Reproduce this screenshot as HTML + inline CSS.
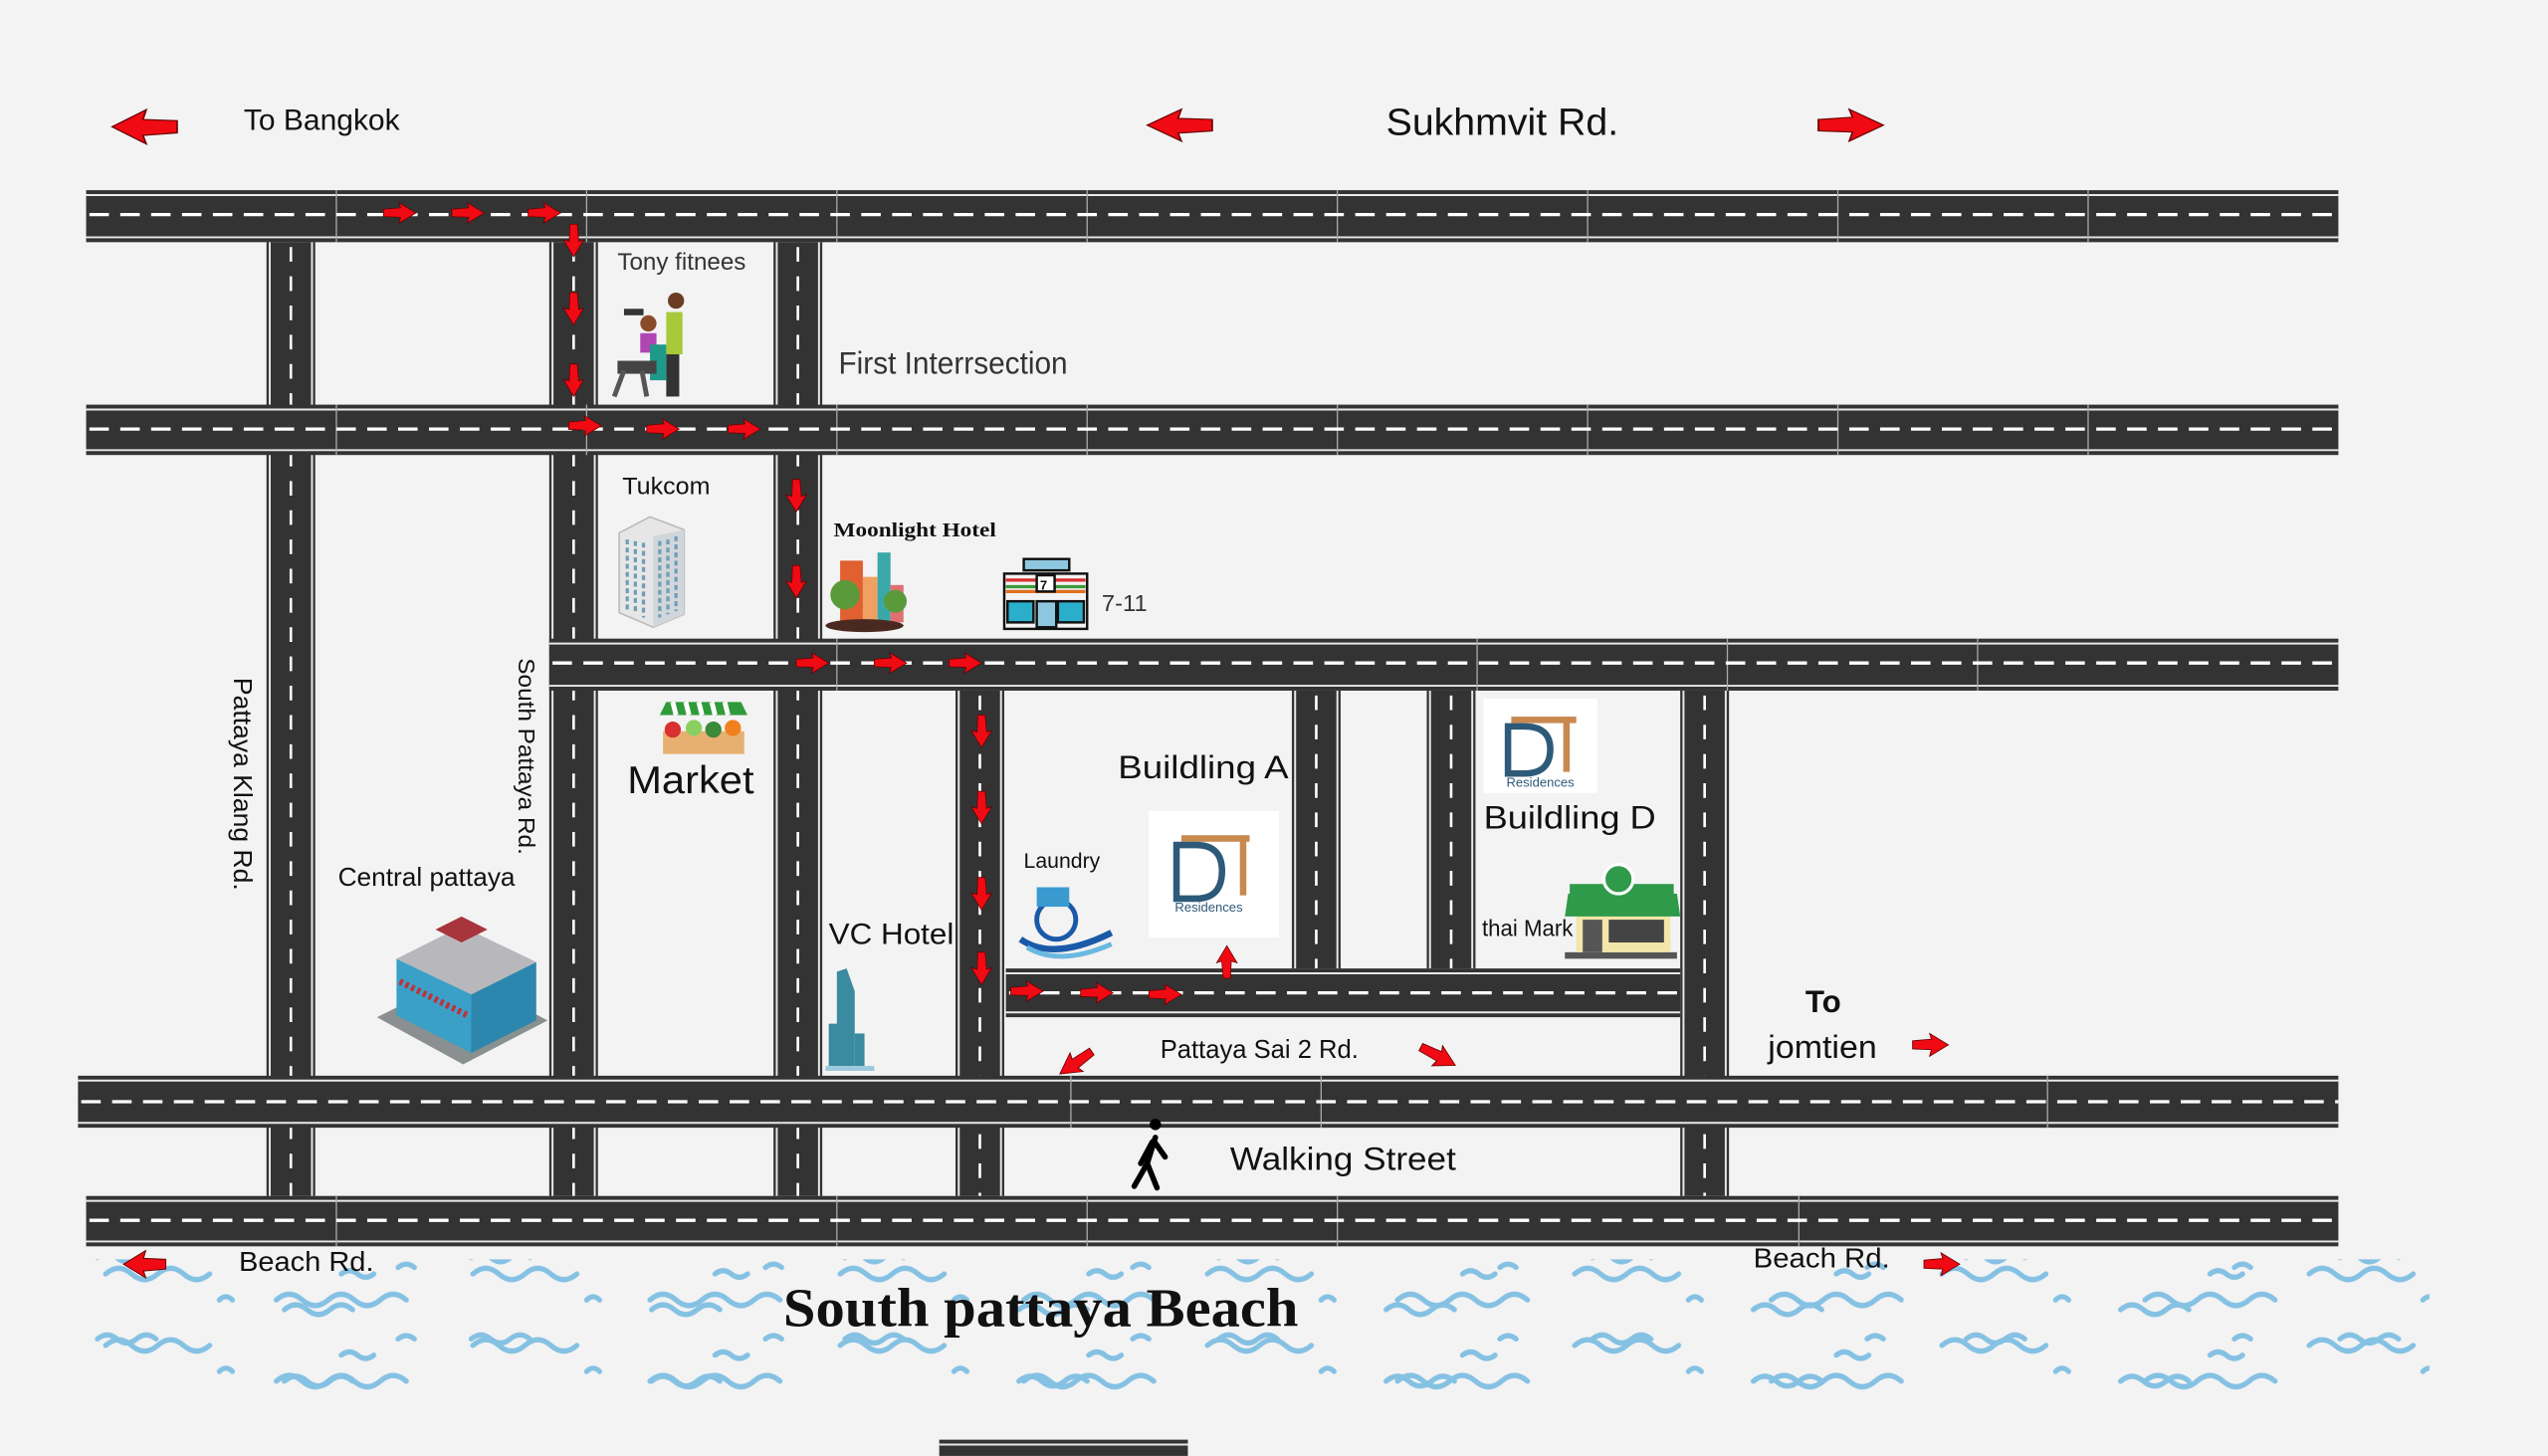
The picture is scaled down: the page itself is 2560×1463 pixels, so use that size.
<!DOCTYPE html>
<html><head><meta charset="utf-8"><style>
html,body{margin:0;padding:0;background:#f3f3f3;}
svg{display:block;}
text{font-family:"Liberation Sans",sans-serif;fill:#111;}
</style></head><body>
<svg width="2560" height="1463" viewBox="0 0 1568 896" xmlns="http://www.w3.org/2000/svg">
<defs>
<path id="ar" d="M-20,-5 L1,-7 L-1,-14 L20,0 L-1,14 L1,6 L-20,5 Z" fill="#f00a14" stroke="#6a0000" stroke-width="1"/>
<pattern id="wv" x="55" y="770" width="226" height="44" patternUnits="userSpaceOnUse">
<path d="M10,14 q8,-7 16,0 t16,0 t16,0 t16,0 M120,36 q7,-6 14,0 t14,0 t14,0 M190,10 q5,-4 10,0 M80,30 q4,-4 8,0" stroke="#85c1e3" stroke-width="3.2" fill="none" stroke-linecap="round"/>
</pattern>
<pattern id="wv2" x="150" y="790" width="230" height="50" patternUnits="userSpaceOnUse">
<path d="M20,10 q8,-7 16,0 t16,0 t16,0 t16,0 t16,0 M140,34 q6,-5 12,0 t12,0 t12,0 M60,44 q5,-4 10,0 t10,0" stroke="#85c1e3" stroke-width="3.2" fill="none" stroke-linecap="round"/>
</pattern>
</defs>
<rect width="1568" height="896" fill="#f3f3f3"/>

<!-- waves -->
<rect x="55" y="768" width="1440" height="92" fill="url(#wv)"/>
<rect x="55" y="775" width="1440" height="85" fill="url(#wv2)"/>

<!-- vertical roads -->
<g fill="#333">
<rect x="164" y="149" width="30" height="587"/>
<rect x="338" y="149" width="30" height="587"/>
<rect x="476" y="149" width="30" height="587"/>
<rect x="588" y="425" width="30" height="311"/>
<rect x="795" y="425" width="30" height="171"/>
<rect x="878" y="425" width="30" height="171"/>
<rect x="1034" y="425" width="30" height="311"/>
</g>
<g stroke="#e8e8e8" stroke-width="1.2">
<line x1="166" y1="149" x2="166" y2="736"/><line x1="192" y1="149" x2="192" y2="736"/>
<line x1="340" y1="149" x2="340" y2="736"/><line x1="366" y1="149" x2="366" y2="736"/>
<line x1="478" y1="149" x2="478" y2="736"/><line x1="504" y1="149" x2="504" y2="736"/>
<line x1="590" y1="425" x2="590" y2="736"/><line x1="616" y1="425" x2="616" y2="736"/>
<line x1="797" y1="425" x2="797" y2="596"/><line x1="823" y1="425" x2="823" y2="596"/>
<line x1="880" y1="425" x2="880" y2="596"/><line x1="906" y1="425" x2="906" y2="596"/>
<line x1="1036" y1="425" x2="1036" y2="736"/><line x1="1062" y1="425" x2="1062" y2="736"/>
</g>
<g stroke="#fff" stroke-width="1.6" stroke-dasharray="9 9">
<line x1="179" y1="152" x2="179" y2="736"/>
<line x1="353" y1="152" x2="353" y2="736"/>
<line x1="491" y1="152" x2="491" y2="736"/>
<line x1="603" y1="428" x2="603" y2="736"/>
<line x1="810" y1="428" x2="810" y2="596"/>
<line x1="893" y1="428" x2="893" y2="596"/>
<line x1="1049" y1="428" x2="1049" y2="736"/>
</g>

<!-- horizontal roads -->
<g fill="#333">
<rect x="53" y="117" width="1386" height="32"/>
<rect x="53" y="249" width="1386" height="31"/>
<rect x="338" y="393" width="1101" height="32"/>
<rect x="619" y="596" width="415" height="30"/>
<rect x="48" y="662" width="1391" height="32"/>
<rect x="53" y="736" width="1386" height="31"/>
<rect x="578" y="886" width="153" height="10"/>
</g>
<g stroke="#e8e8e8" stroke-width="1.2">
<line x1="53" y1="120" x2="1439" y2="120"/><line x1="53" y1="146" x2="1439" y2="146"/>
<line x1="53" y1="252" x2="1439" y2="252"/><line x1="53" y1="277" x2="1439" y2="277"/>
<line x1="338" y1="396" x2="1439" y2="396"/><line x1="338" y1="422" x2="1439" y2="422"/>
<line x1="619" y1="599" x2="1034" y2="599"/><line x1="619" y1="623" x2="1034" y2="623"/>
<line x1="48" y1="665" x2="1439" y2="665"/><line x1="48" y1="691" x2="1439" y2="691"/>
<line x1="53" y1="739" x2="1439" y2="739"/><line x1="53" y1="764" x2="1439" y2="764"/>
<line x1="578" y1="889" x2="731" y2="889"/>
</g>
<g stroke="#aaa" stroke-width="0.8">
<line x1="207" y1="117" x2="207" y2="149"/><line x1="361" y1="117" x2="361" y2="149"/><line x1="515" y1="117" x2="515" y2="149"/><line x1="669" y1="117" x2="669" y2="149"/><line x1="823" y1="117" x2="823" y2="149"/><line x1="977" y1="117" x2="977" y2="149"/><line x1="1131" y1="117" x2="1131" y2="149"/><line x1="1285" y1="117" x2="1285" y2="149"/>
<line x1="207" y1="249" x2="207" y2="280"/><line x1="361" y1="249" x2="361" y2="280"/><line x1="515" y1="249" x2="515" y2="280"/><line x1="669" y1="249" x2="669" y2="280"/><line x1="823" y1="249" x2="823" y2="280"/><line x1="977" y1="249" x2="977" y2="280"/><line x1="1131" y1="249" x2="1131" y2="280"/><line x1="1285" y1="249" x2="1285" y2="280"/>
<line x1="515" y1="393" x2="515" y2="425"/><line x1="909" y1="393" x2="909" y2="425"/><line x1="1063" y1="393" x2="1063" y2="425"/><line x1="1217" y1="393" x2="1217" y2="425"/>
<line x1="659" y1="662" x2="659" y2="694"/><line x1="813" y1="662" x2="813" y2="694"/><line x1="1260" y1="662" x2="1260" y2="694"/>
<line x1="207" y1="736" x2="207" y2="767"/><line x1="515" y1="736" x2="515" y2="767"/><line x1="669" y1="736" x2="669" y2="767"/><line x1="823" y1="736" x2="823" y2="767"/><line x1="1107" y1="736" x2="1107" y2="767"/>
</g>
<g stroke="#fff" stroke-width="2" stroke-dasharray="12 7">
<line x1="55" y1="132" x2="1439" y2="132"/>
<line x1="55" y1="264" x2="1439" y2="264"/>
<line x1="340" y1="408" x2="1439" y2="408"/>
<line x1="621" y1="611" x2="1034" y2="611"/>
<line x1="50" y1="678" x2="1439" y2="678"/>
<line x1="55" y1="751" x2="1439" y2="751"/>
</g>

<!-- road arrows -->
<g>
<use href="#ar" transform="translate(246,131) scale(0.5,0.45)"/>
<use href="#ar" transform="translate(288,131) scale(0.5,0.45)"/>
<use href="#ar" transform="translate(335,131) scale(0.5,0.45)"/>
<use href="#ar" transform="translate(353,148) rotate(90) scale(0.5,0.45)"/>
<use href="#ar" transform="translate(353,190) rotate(90) scale(0.5,0.45)"/>
<use href="#ar" transform="translate(353,234) rotate(90) scale(0.5,0.45)"/>
<use href="#ar" transform="translate(360,262) scale(0.5,0.45)"/>
<use href="#ar" transform="translate(408,264) scale(0.5,0.45)"/>
<use href="#ar" transform="translate(458,264) scale(0.5,0.45)"/>
<use href="#ar" transform="translate(490,305) rotate(90) scale(0.5,0.45)"/>
<use href="#ar" transform="translate(490,358) rotate(90) scale(0.5,0.45)"/>
<use href="#ar" transform="translate(500,408) scale(0.5,0.45)"/>
<use href="#ar" transform="translate(548,408) scale(0.5,0.45)"/>
<use href="#ar" transform="translate(594,408) scale(0.5,0.45)"/>
<use href="#ar" transform="translate(604,450) rotate(90) scale(0.5,0.45)"/>
<use href="#ar" transform="translate(604,497) rotate(90) scale(0.5,0.45)"/>
<use href="#ar" transform="translate(604,550) rotate(90) scale(0.5,0.45)"/>
<use href="#ar" transform="translate(604,596) rotate(90) scale(0.5,0.45)"/>
<use href="#ar" transform="translate(632,610) scale(0.5,0.45)"/>
<use href="#ar" transform="translate(675,611) scale(0.5,0.45)"/>
<use href="#ar" transform="translate(717,612) scale(0.5,0.45)"/>
<use href="#ar" transform="translate(755,592) rotate(-90) scale(0.5,0.45)"/>
<use href="#ar" transform="translate(662,654) rotate(145) scale(0.6,0.5)"/>
<use href="#ar" transform="translate(885,650) rotate(28) scale(0.6,0.5)"/>
<use href="#ar" transform="translate(89,78) rotate(180) scale(1,0.75)"/>
<use href="#ar" transform="translate(726,77) rotate(180) scale(1,0.7)"/>
<use href="#ar" transform="translate(1139,77) scale(1,0.7)"/>
<use href="#ar" transform="translate(1188,643) scale(0.55,0.5)"/>
<use href="#ar" transform="translate(89,778) rotate(180) scale(0.65,0.6)"/>
<use href="#ar" transform="translate(1195,778) scale(0.55,0.5)"/>
</g>

<!-- icons -->
<g>
<circle cx="416" cy="185" r="5" fill="#6b3b24"/>
<rect x="410" y="192" width="10" height="26" fill="#a7c93a"/>
<rect x="410" y="218" width="8" height="26" fill="#333"/>
<circle cx="399" cy="199" r="5" fill="#8a4b2a"/>
<rect x="394" y="205" width="10" height="12" fill="#b046b3"/>
<rect x="400" y="212" width="10" height="22" fill="#1f9a8a"/>
<rect x="380" y="222" width="24" height="8" fill="#444"/>
<path d="M378,244 L384,228 M398,244 L395,228" stroke="#555" stroke-width="3"/>
<rect x="384" y="190" width="12" height="4" fill="#333"/>
</g>
<g>
<path d="M381,328 L400,318 L421,326 L421,378 L402,386 L381,377 Z" fill="#e6e6e6" stroke="#bbb"/>
<path d="M402,330 L421,326 L421,378 L402,386 Z" fill="#d0d6da"/>
<g stroke="#6f9fb5" stroke-width="2" stroke-dasharray="3 2">
<line x1="386" y1="332" x2="386" y2="376"/><line x1="391" y1="333" x2="391" y2="378"/><line x1="396" y1="334" x2="396" y2="380"/>
<line x1="406" y1="333" x2="406" y2="380"/><line x1="411" y1="332" x2="411" y2="378"/><line x1="416" y1="330" x2="416" y2="376"/>
</g>
</g>
<g>
<rect x="517" y="345" width="14" height="38" fill="#e06030"/>
<rect x="531" y="355" width="9" height="28" fill="#f0a060"/>
<rect x="540" y="340" width="8" height="43" fill="#3aa8a8"/>
<rect x="548" y="360" width="8" height="23" fill="#e07070"/>
<circle cx="520" cy="366" r="9" fill="#5a9a3a"/>
<circle cx="551" cy="370" r="7" fill="#5a9a3a"/>
<ellipse cx="532" cy="385" rx="24" ry="4" fill="#4a2a20"/>
</g>
<g stroke="#111" stroke-width="1.5">
<rect x="630" y="344" width="28" height="7" fill="#8ec8e0"/>
<rect x="618" y="353" width="51" height="34" fill="#f3f3f3"/>
<line x1="619" y1="357" x2="668" y2="357" stroke="#d93030" stroke-width="2"/>
<line x1="619" y1="361" x2="668" y2="361" stroke="#3a9a3a" stroke-width="2"/>
<line x1="619" y1="364" x2="668" y2="364" stroke="#e07020" stroke-width="2"/>
<rect x="620" y="370" width="16" height="13" fill="#2aaecb"/>
<rect x="651" y="370" width="16" height="13" fill="#2aaecb"/>
<rect x="638" y="370" width="12" height="16" fill="#8ec8e0"/>
<rect x="638" y="354" width="11" height="10" fill="#fff"/>
</g>
<text x="640" y="363" font-size="8" font-weight="bold">7</text>
<g>
<path d="M410,432 L456,432 L460,440 L406,440 Z" fill="#2f9a3a"/>
<path d="M414,432 L416,440 M422,432 L424,440 M430,432 L432,440 M438,432 L440,440 M446,432 L448,440" stroke="#fff" stroke-width="3"/>
<rect x="408" y="450" width="50" height="14" fill="#e8b070"/>
<circle cx="414" cy="449" r="5" fill="#d93030"/><circle cx="427" cy="448" r="5" fill="#8ad060"/><circle cx="439" cy="449" r="5" fill="#3a8a3a"/><circle cx="451" cy="448" r="5" fill="#f08020"/>
</g>
<g>
<path d="M232,626 L285,655 L337,628 L284,600 Z" fill="#8a8f8f"/>
<path d="M244,590 L244,625 L290,648 L290,612 Z" fill="#3aa0c8"/>
<path d="M290,612 L290,648 L330,628 L330,592 Z" fill="#2d86ad"/>
<path d="M244,590 L290,612 L330,592 L284,570 Z" fill="#b8b8bc"/>
<path d="M268,572 L284,580 L300,572 L284,564 Z" fill="#a8343c"/>
<path d="M246,604 L288,625" stroke="#c0303a" stroke-width="4" stroke-dasharray="2 2"/>
</g>
<g fill="#3a8aa0">
<path d="M515,598 L521,596 L526,610 L526,656 L515,656 Z"/>
<rect x="510" y="630" width="6" height="26"/>
<rect x="526" y="636" width="6" height="20"/>
<rect x="508" y="656" width="30" height="3" fill="#9cc8dc"/>
</g>
<g>
<path d="M628,578 q20,14 56,-4" stroke="#1a5aa8" stroke-width="4" fill="none"/>
<path d="M632,583 q20,12 52,-2" stroke="#6ab8e0" stroke-width="3" fill="none"/>
<circle cx="650" cy="566" r="12" fill="none" stroke="#1a5aa8" stroke-width="3"/>
<rect x="638" y="546" width="20" height="12" fill="#3a9ad0"/>
</g>
<g>
<rect x="707" y="499" width="80" height="78" fill="#fff"/>
<rect x="727" y="514" width="42" height="4" fill="#c8894f"/>
<rect x="763" y="514" width="4" height="37" fill="#c8894f"/>
<path d="M724,520 L724,553 L736,553 Q752,553 752,536 Q752,520 736,520 Z" fill="none" stroke="#2d5a78" stroke-width="4"/>
<text x="723" y="561" font-size="8" style="fill:#2d5a78">Residences</text>
</g>
<g>
<rect x="913" y="430" width="70" height="58" fill="#fff"/>
<rect x="930" y="441" width="40" height="4" fill="#c8894f"/>
<rect x="962" y="441" width="4" height="34" fill="#c8894f"/>
<path d="M928,447 L928,476 L938,476 Q954,476 954,461 Q954,447 938,447 Z" fill="none" stroke="#2d5a78" stroke-width="4"/>
<text x="927" y="484" font-size="8" style="fill:#2d5a78">Residences</text>
</g>
<g>
<rect x="963" y="586" width="69" height="4" fill="#555"/>
<rect x="970" y="560" width="58" height="26" fill="#f3e6a8"/>
<path d="M965,550 L1032,550 L1034,564 L963,564 Z" fill="#2f9a4a"/>
<rect x="966" y="544" width="64" height="6" fill="#2f9a4a"/>
<circle cx="996" cy="541" r="9" fill="#2f9a4a" stroke="#fff" stroke-width="2"/>
<rect x="974" y="566" width="12" height="20" fill="#555"/>
<rect x="990" y="566" width="34" height="14" fill="#444"/>
</g>
<g stroke="#000" stroke-width="3.4" fill="none" stroke-linecap="round">
<path d="M711,700 L706,716 L698,730 M706,716 L712,731 M710,702 L717,712 M709,703 L702,716"/>
</g>
<circle cx="711" cy="692" r="3.5" fill="#000"/>

<!-- labels -->
<g>
<text x="150" y="80" font-size="18" textLength="96" lengthAdjust="spacingAndGlyphs">To Bangkok</text>
<text x="853" y="83" font-size="23" textLength="143" lengthAdjust="spacingAndGlyphs">Sukhmvit Rd.</text>
<text x="380" y="166" font-size="15" textLength="79" lengthAdjust="spacingAndGlyphs" style="fill:#333">Tony fitnees</text>
<text x="516" y="230" font-size="19" textLength="141" lengthAdjust="spacingAndGlyphs" style="fill:#333">First Interrsection</text>
<text x="383" y="304" font-size="15" textLength="54" lengthAdjust="spacingAndGlyphs">Tukcom</text>
<text x="513" y="330" font-size="12" font-weight="bold" textLength="100" lengthAdjust="spacingAndGlyphs" style="font-family:'Liberation Serif',serif">Moonlight Hotel</text>
<text x="678" y="376" font-size="14" textLength="28" lengthAdjust="spacingAndGlyphs" style="fill:#333">7-11</text>
<text x="386" y="488" font-size="24" textLength="78" lengthAdjust="spacingAndGlyphs">Market</text>
<text x="688" y="479" font-size="20" textLength="105" lengthAdjust="spacingAndGlyphs">Buildling A</text>
<text x="913" y="510" font-size="20" textLength="106" lengthAdjust="spacingAndGlyphs">Buildling D</text>
<text x="630" y="534" font-size="13" textLength="47" lengthAdjust="spacingAndGlyphs">Laundry</text>
<text x="912" y="576" font-size="14" textLength="56" lengthAdjust="spacingAndGlyphs">thai Mark</text>
<text x="208" y="545" font-size="16" textLength="109" lengthAdjust="spacingAndGlyphs">Central pattaya</text>
<text x="510" y="581" font-size="18" textLength="77" lengthAdjust="spacingAndGlyphs">VC Hotel</text>
<text transform="translate(144,417) rotate(90)" font-size="16" textLength="131" lengthAdjust="spacingAndGlyphs">Pattaya Klang Rd.</text>
<text transform="translate(319,405) rotate(90)" font-size="14" textLength="121" lengthAdjust="spacingAndGlyphs">South Pattaya Rd.</text>
<text x="714" y="651" font-size="16" textLength="122" lengthAdjust="spacingAndGlyphs">Pattaya Sai 2 Rd.</text>
<text x="1111" y="623" font-size="19" font-weight="bold" textLength="22" lengthAdjust="spacingAndGlyphs">To</text>
<text x="1088" y="651" font-size="20" textLength="67" lengthAdjust="spacingAndGlyphs">jomtien</text>
<text x="757" y="720" font-size="20" textLength="139" lengthAdjust="spacingAndGlyphs">Walking Street</text>
<text x="147" y="782" font-size="17" textLength="83" lengthAdjust="spacingAndGlyphs">Beach Rd.</text>
<text x="1079" y="780" font-size="17" textLength="84" lengthAdjust="spacingAndGlyphs">Beach Rd.</text>
<text x="482" y="816" font-size="34" font-weight="bold" textLength="317" lengthAdjust="spacingAndGlyphs" style="font-family:'Liberation Serif',serif">South pattaya Beach</text>
</g>
</svg>
</body></html>
